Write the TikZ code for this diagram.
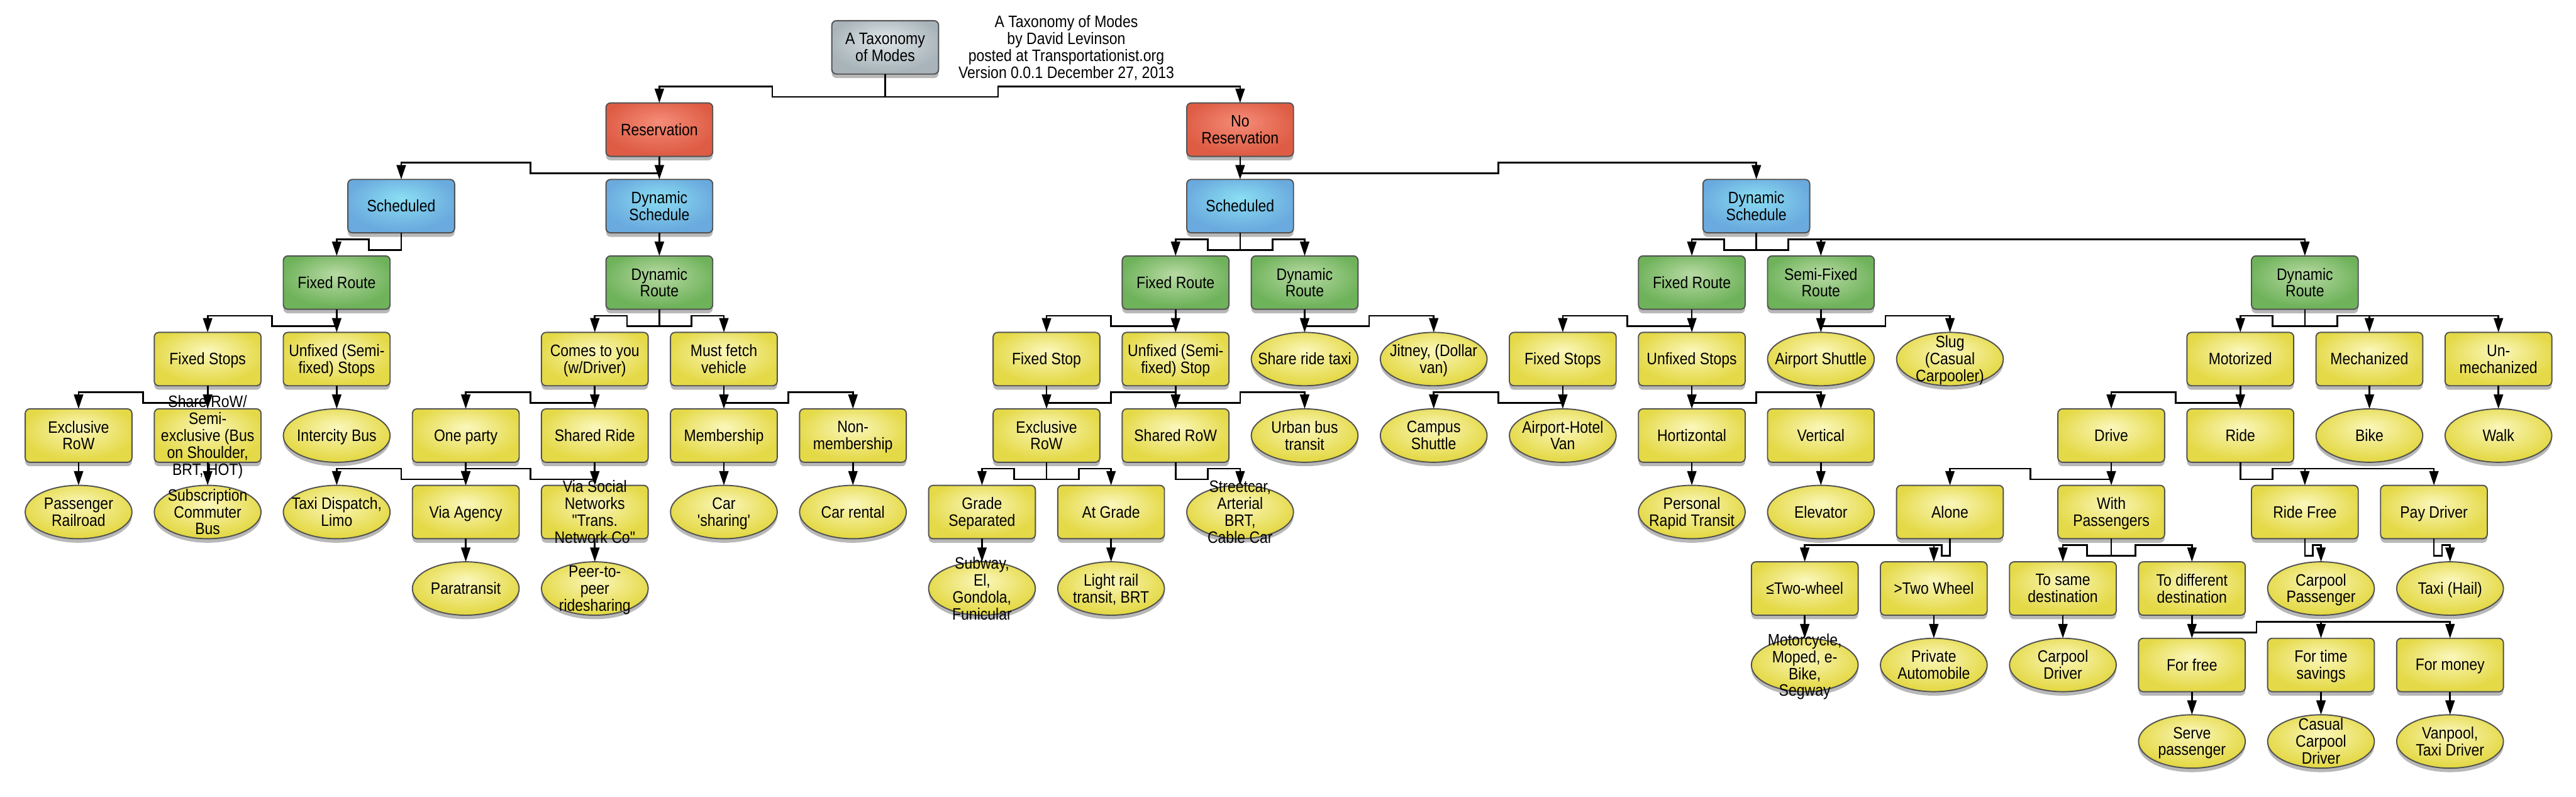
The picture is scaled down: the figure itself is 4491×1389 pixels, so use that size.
\documentclass[tikz,border=0pt]{standalone}
\usepackage{fontspec}
\setmainfont{Liberation Sans}[FakeStretch=0.875, Ligatures=TeXOff]
\usetikzlibrary{shapes.geometric, arrows.meta, shadows, calc}

\definecolor{grayin}{RGB}{224,231,233}
\definecolor{grayout}{RGB}{168,180,186}
\definecolor{redin}{RGB}{245,140,120}
\definecolor{redout}{RGB}{222,92,68}
\definecolor{bluein}{RGB}{138,222,243}
\definecolor{blueout}{RGB}{106,170,222}
\definecolor{greenin}{RGB}{184,218,164}
\definecolor{greenout}{RGB}{110,178,90}
\definecolor{yelin}{RGB}{251,247,188}
\definecolor{yelout}{RGB}{228,217,70}
\definecolor{bordc}{RGB}{82,82,82}

\pgfdeclareradialshading{shgray}{\pgfpoint{0bp}{8bp}}{color(0bp)=(grayin); color(27bp)=(grayout); color(50bp)=(grayout)}
\pgfdeclareradialshading{shred}{\pgfpoint{0bp}{8bp}}{color(0bp)=(redin); color(27bp)=(redout); color(50bp)=(redout)}
\pgfdeclareradialshading{shblue}{\pgfpoint{0bp}{8bp}}{color(0bp)=(bluein); color(27bp)=(blueout); color(50bp)=(blueout)}
\pgfdeclareradialshading{shgreen}{\pgfpoint{0bp}{8bp}}{color(0bp)=(greenin); color(27bp)=(greenout); color(50bp)=(greenout)}
\pgfdeclareradialshading{shyel}{\pgfpoint{0bp}{8bp}}{color(0bp)=(yelin); color(27bp)=(yelout); color(50bp)=(yelout)}

\newcommand\nfont{\fontsize{8.2pt}{8.25pt}\selectfont}
\newcommand\T[1]{\smash{\makebox[0pt]{\raisebox{-3.1pt}{\begin{tabular}{@{}c@{}}#1\end{tabular}}}}}
\newcommand\nd[5]{\node[#1] (#2) at ({137+112.5*#3},{226+133.3*(#4-1)}) {\T{#5}};}
\newcommand\cs[2]{\draw[conn] (#1.south) -- (#2.north);}
\newcommand\cnm[2]{\draw[conn] let \p1=(#1.south), \p2=(#2.north) in (\p1) -- (\x1,\y2+0.105cm) -- ({(\x1+\x2)/2},\y2+0.105cm) -- ({(\x1+\x2)/2},\y2+0.29cm) -- (\x2,\y2+0.29cm) -- (\p2);}
\newcommand\cnj[3]{\draw[conn] let \p1=(#1.south), \p2=(#2.north), \p3=(#3,0) in (\p1) -- (\x1,\y2+0.105cm) -- (\x3,\y2+0.105cm) -- (\x3,\y2+0.29cm) -- (\x2,\y2+0.29cm) -- (\p2);}

\tikzset{
  base/.style={minimum width=1.86cm, minimum height=0.93cm, inner sep=0pt, outer sep=0pt,
    draw=bordc, line width=0.6pt, font=\nfont,
    drop shadow={shadow xshift=0pt, shadow yshift=-0.07cm, opacity=0.28, fill=black}},
  bx/.style={base, rectangle, rounded corners=0.08cm},
  el/.style={base, ellipse},
  gbox/.style={bx, shading=shgray},
  rbox/.style={bx, shading=shred},
  bbox/.style={bx, shading=shblue},
  grbox/.style={bx, shading=shgreen},
  ybox/.style={bx, shading=shyel},
  yell/.style={el, shading=shyel},
  conn/.style={line width=0.85pt, draw=black, line join=miter, -{Triangle[length=0.25cm,width=0.16cm]}}
}

\begin{document}
\begin{tikzpicture}[x=0.01cm, y=-0.01cm]
\useasboundingbox (0,0) rectangle (4491,1389);
\fill[white] (0,0) rectangle (4491,1389);

% row 0
\node[gbox] (tax) at (1543.25,82.6) {\T{A Taxonomy\\of Modes}};
\node[font=\nfont, inner sep=0pt] (ttl) at (1859,82.4) {\T{A Taxonomy of Modes\\by David Levinson\\posted at Transportationist.org\\Version 0.0.1 December 27, 2013}};

% row 1
\nd{rbox}{res}{9}{1}{Reservation}
\nd{rbox}{nores}{18}{1}{No\\Reservation}

% row 2
\nd{bbox}{rsch}{5}{2}{Scheduled}
\nd{bbox}{rdsch}{9}{2}{Dynamic\\Schedule}
\nd{bbox}{nsch}{18}{2}{Scheduled}
\nd{bbox}{ndsch}{26}{2}{Dynamic\\Schedule}

% row 3
\nd{grbox}{rfr}{4}{3}{Fixed Route}
\nd{grbox}{rdr}{9}{3}{Dynamic\\Route}
\nd{grbox}{nfr}{17}{3}{Fixed Route}
\nd{grbox}{ndr}{19}{3}{Dynamic\\Route}
\nd{grbox}{dfr}{25}{3}{Fixed Route}
\nd{grbox}{sfr}{27}{3}{Semi-Fixed\\Route}
\nd{grbox}{ddr}{34.5}{3}{Dynamic\\Route}

% row 4
\nd{ybox}{rfs}{2}{4}{Fixed Stops}
\nd{ybox}{rufs}{4}{4}{Unfixed (Semi-\\fixed) Stops}
\nd{ybox}{ctu}{8}{4}{Comes to you\\(w/Driver)}
\nd{ybox}{mfv}{10}{4}{Must fetch\\vehicle}
\nd{ybox}{nfs}{15}{4}{Fixed Stop}
\nd{ybox}{nufs}{17}{4}{Unfixed (Semi-\\fixed) Stop}
\nd{yell}{srt}{19}{4}{Share ride taxi}
\nd{yell}{jit}{21}{4}{Jitney, (Dollar\\van)}
\nd{ybox}{dfs}{23}{4}{Fixed Stops}
\nd{ybox}{dus}{25}{4}{Unfixed Stops}
\nd{yell}{aps}{27}{4}{Airport Shuttle}
\nd{yell}{slug}{29}{4}{Slug\\(Casual\\Carpooler)}
\nd{ybox}{mot}{33.5}{4}{Motorized}
\nd{ybox}{mech}{35.5}{4}{Mechanized}
\nd{ybox}{unm}{37.5}{4}{Un-\\mechanized}

% row 5
\nd{ybox}{rerow}{0}{5}{Exclusive\\RoW}
\nd{ybox}{rsrow}{2}{5}{Share RoW/\\Semi-\\exclusive (Bus\\on Shoulder,\\BRT, HOT)}
\nd{yell}{icb}{4}{5}{Intercity Bus}
\nd{ybox}{onep}{6}{5}{One party}
\nd{ybox}{shr}{8}{5}{Shared Ride}
\nd{ybox}{memb}{10}{5}{Membership}
\nd{ybox}{nonm}{12}{5}{Non-\\membership}
\nd{ybox}{nerow}{15}{5}{Exclusive\\RoW}
\nd{ybox}{nsrow}{17}{5}{Shared RoW}
\nd{yell}{ubt}{19}{5}{Urban bus\\transit}
\nd{yell}{camp}{21}{5}{Campus\\Shuttle}
\nd{yell}{ahv}{23}{5}{Airport-Hotel\\Van}
\nd{ybox}{hor}{25}{5}{Hortizontal}
\nd{ybox}{vert}{27}{5}{Vertical}
\nd{ybox}{drive}{31.5}{5}{Drive}
\nd{ybox}{ride}{33.5}{5}{Ride}
\nd{yell}{bike}{35.5}{5}{Bike}
\nd{yell}{walk}{37.5}{5}{Walk}

% row 6
\nd{yell}{prr}{0}{6}{Passenger\\Railroad}
\nd{yell}{scb}{2}{6}{Subscription\\Commuter\\Bus}
\nd{yell}{taxi}{4}{6}{Taxi Dispatch,\\Limo}
\nd{ybox}{via}{6}{6}{Via Agency}
\nd{ybox}{vsn}{8}{6}{Via Social\\Networks\\"Trans.\\Network Co"}
\nd{yell}{cars}{10}{6}{Car\\'sharing'}
\nd{yell}{carr}{12}{6}{Car rental}
\nd{ybox}{gs}{14}{6}{Grade\\Separated}
\nd{ybox}{ag}{16}{6}{At Grade}
\nd{yell}{stc}{18}{6}{Streetcar,\\Arterial\\BRT,\\Cable Car}
\nd{yell}{prt}{25}{6}{Personal\\Rapid Transit}
\nd{yell}{elev}{27}{6}{Elevator}
\nd{ybox}{alone}{29}{6}{Alone}
\nd{ybox}{withp}{31.5}{6}{With\\Passengers}
\nd{ybox}{rfree}{34.5}{6}{Ride Free}
\nd{ybox}{payd}{36.5}{6}{Pay Driver}

% row 7
\nd{yell}{para}{6}{7}{Paratransit}
\nd{yell}{p2p}{8}{7}{Peer-to-\\peer\\ridesharing}
\nd{yell}{sub}{14}{7}{Subway,\\El,\\Gondola,\\Funicular}
\nd{yell}{lrt}{16}{7}{Light rail\\transit, BRT}
\nd{ybox}{ltw}{26.75}{7}{≤Two-wheel}
\nd{ybox}{gtw}{28.75}{7}{>Two Wheel}
\nd{ybox}{tsame}{30.75}{7}{To same\\destination}
\nd{ybox}{tdiff}{32.75}{7}{To different\\destination}
\nd{yell}{cpp}{34.75}{7}{Carpool\\Passenger}
\nd{yell}{hail}{36.75}{7}{Taxi (Hail)}

% row 8
\nd{yell}{moto}{26.75}{8}{Motorcycle,\\Moped, e-\\Bike,\\Segway}
\nd{yell}{pauto}{28.75}{8}{Private\\Automobile}
\nd{yell}{cpd}{30.75}{8}{Carpool\\Driver}
\nd{ybox}{ffree}{32.75}{8}{For free}
\nd{ybox}{ftime}{34.75}{8}{For time\\savings}
\nd{ybox}{fmon}{36.75}{8}{For money}

% row 9
\nd{yell}{serve}{32.75}{9}{Serve\\passenger}
\nd{yell}{ccd}{34.75}{9}{Casual\\Carpool\\Driver}
\nd{yell}{vanp}{36.75}{9}{Vanpool,\\Taxi Driver}

% connectors: reservation side
\cnm{tax}{res}
\cnj{tax}{nores}{1740}
\cnm{res}{rsch}
\cs{res}{rdsch}
\cnm{rsch}{rfr}
\cs{rdsch}{rdr}
\cnm{rfr}{rfs}
\cs{rfr}{rufs}
\cnm{rdr}{ctu}
\cnm{rdr}{mfv}
\cnm{rfs}{rerow}
\cs{rfs}{rsrow}
\cs{rufs}{icb}
\cnm{ctu}{onep}
\cs{ctu}{shr}
\cs{rerow}{prr}
\cs{rsrow}{scb}
\cnm{onep}{taxi}
\cs{onep}{via}
\cnm{shr}{via}
\cs{shr}{vsn}
\cs{via}{para}
\cs{vsn}{p2p}
\cs{mfv}{memb}
\cnm{mfv}{nonm}
\cs{memb}{cars}
\cs{nonm}{carr}

% connectors: no reservation side
\cs{nores}{nsch}
\cnm{nores}{ndsch}
\cnm{nsch}{nfr}
\cnm{nsch}{ndr}
\cnm{nfr}{nfs}
\cs{nfr}{nufs}
\cs{ndr}{srt}
\cnm{ndr}{jit}
\cs{nfs}{nerow}
\cnm{nfs}{nsrow}
\cs{nufs}{nsrow}
\cnm{nufs}{ubt}
\cnm{nerow}{gs}
\cnm{nerow}{ag}
\cnm{nsrow}{stc}
\cs{gs}{sub}
\cs{ag}{lrt}
\cnm{ndsch}{dfr}
\cnm{ndsch}{sfr}
\cnj{ndsch}{ddr}{3118}
\cnm{dfr}{dfs}
\cs{dfr}{dus}
\cs{sfr}{aps}
\cnm{sfr}{slug}
\cnm{dfs}{camp}
\cs{dfs}{ahv}
\cs{dus}{hor}
\cnm{dus}{vert}
\cs{hor}{prt}
\cs{vert}{elev}
\cnm{ddr}{mot}
\cnm{ddr}{mech}
\cnj{ddr}{unm}{4074.5}
\cnm{mot}{drive}
\cs{mot}{ride}
\cs{mech}{bike}
\cs{unm}{walk}
\cnm{drive}{alone}
\cs{drive}{withp}
\cnm{ride}{rfree}
\cnj{ride}{payd}{3962}
\cnj{alone}{ltw}{3385.5}
\cnm{alone}{gtw}
\cnm{withp}{tsame}
\cnj{withp}{tdiff}{3723}
\cnm{rfree}{cpp}
\cnm{payd}{hail}
\cs{ltw}{moto}
\cs{gtw}{pauto}
\cs{tsame}{cpd}
\cs{tdiff}{ffree}
\cnm{tdiff}{ftime}
\cnj{tdiff}{fmon}{3934}
\cs{ffree}{serve}
\cs{ftime}{ccd}
\cs{fmon}{vanp}
\end{tikzpicture}
\end{document}
